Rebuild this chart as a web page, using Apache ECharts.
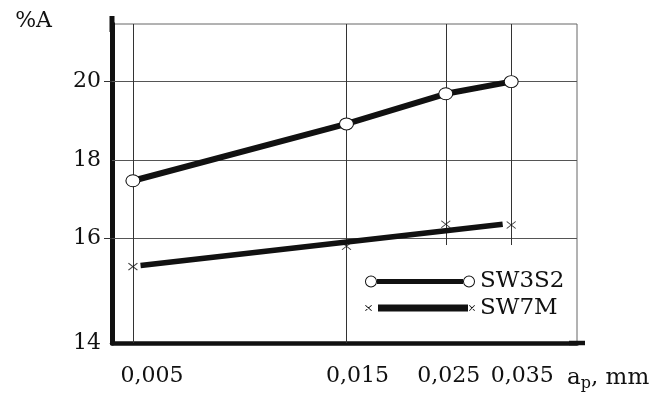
<!DOCTYPE html>
<html>
<head>
<meta charset="utf-8">
<script src="https://cdn.jsdelivr.net/npm/echarts@6/dist/echarts.min.js"></script>
<style>
html, body { margin: 0; padding: 0; background: #fff; }
#chart { width: 657px; height: 394px; }
</style>
</head>
<body>
<div id="chart"></div>
<script>
// values
var seriesNames = ['SW3S2', 'SW7M'];
var feedValues = [0.005, 0.015, 0.025, 0.035];
var feedLabels = ['0,005', '0,015', '0,025', '0,035'];
var sw3s2Values = [17.47, 18.92, 19.69, 20.0];
var sw7mValues = [15.28, 15.80, 16.36, 16.34];
// the SW7M line is drawn as a straight trend, not through the crosses
var sw7mTrendX = [0.0052, 0.0335];
var sw7mTrendY = [15.31, 16.36];
var yTickValues = [16, 18, 20];
var yBottomLabel = '14';

var X_MIN = 0.00449, X_MAX = 0.0491;
var Y_MIN = 13.33, Y_MAX = 21.47;
var FONT = 'DejaVu Serif';

// x labels in the picture sit to the right of their lines
var labelShift = [38, 22, 6, 22];
// the two right-hand vertical lines stop just under the 16 line (legend area is clear)
var vLineBottom = [Y_MIN, Y_MIN, 15.83, 15.83];

function pairs(xs, ys) {
	return xs.map(function (x, i) { return [x, ys[i]]; });
}

function nearestFeed(v) {
	var best = 0;
	for (var i = 1; i < feedValues.length; i++) {
		if (Math.abs(Math.log(v) - Math.log(feedValues[i])) < Math.abs(Math.log(v) - Math.log(feedValues[best]))) best = i;
	}
	return best;
}

var xRich = {};
labelShift.forEach(function (s, i) {
	xRich['l' + i] = {
		fontFamily: FONT, fontSize: 22, color: '#111',
		padding: [0, 0, 0, s]
	};
});

var ringIcon = 'path://M0,6A6,6,0,1,1,12,6A6,6,0,1,1,0,6Z M1,6A5,5,0,1,0,11,6A5,5,0,1,0,1,6Z M12,3.5H98V8.5H12Z M98,6A6,6,0,1,1,110,6A6,6,0,1,1,98,6Z M99,6A5,5,0,1,0,109,6A5,5,0,1,0,99,6Z';
var crossIcon = 'path://M0,3.5L0.7,3L7,8.5L6.3,9Z M0,8.5L6.3,3L7,3.5L0.7,9Z M13,2.5H103V9.5H13Z M104,3.5L104.6,3L110,8.5L109.4,9Z M104,8.5L109.4,3L110,3.5L104.6,9Z';

var gridLines = yTickValues.map(function (v) {
	return [{ coord: [X_MIN, v], lineStyle: { color: '#555', width: 1 } }, { coord: [X_MAX, v] }];
}).concat(feedValues.map(function (v, i) {
	return [{ coord: [v, vLineBottom[i]], lineStyle: { color: '#333', width: 1 } }, { coord: [v, Y_MAX] }];
}));

var chart = echarts.init(document.getElementById('chart'));
chart.setOption({
	animation: false,
	grid: {
		left: 112, right: 80, top: 24, bottom: 51,
		show: true, borderColor: '#666', borderWidth: 1
	},
	legend: {
		orient: 'vertical',
		left: 365, top: 270,
		padding: 0,
		itemWidth: 110, itemHeight: 12, itemGap: 3.5,
		symbolKeepAspect: true,
		textStyle: { fontFamily: FONT, fontSize: 23, color: '#111' },
		data: [
			{ name: seriesNames[0], icon: ringIcon, itemStyle: { color: '#111', borderWidth: 0 } },
			{ name: seriesNames[1], icon: crossIcon, itemStyle: { color: '#111', borderWidth: 0 } }
		]
	},
	xAxis: {
		type: 'log',
		min: X_MIN, max: X_MAX,
		name: '{a|a}{s|p}{a|, mm}',
		nameLocation: 'end',
		nameGap: -10,
		nameMoveOverlap: false,
		nameTextStyle: {
			verticalAlign: 'top', align: 'left', padding: [21, 0, 0, 0],
			rich: {
				a: { fontFamily: FONT, fontSize: 23, color: '#111' },
				s: { fontFamily: FONT, fontSize: 16, color: '#111', verticalAlign: 'bottom', padding: [12, 0, 0, 0] }
			}
		},
		axisLine: { lineStyle: { color: '#111', width: 4.5 }, symbol: ['none', 'rect'], symbolSize: [4.5, 16] },
		axisTick: { show: false },
		splitLine: { show: false },
		axisLabel: {
			customValues: feedValues,
			margin: 22,
			hideOverlap: false,
			showMinLabel: true,
			showMaxLabel: true,
			formatter: function (v) {
				var i = nearestFeed(v);
				return '{l' + i + '|' + feedLabels[i] + '}';
			},
			rich: xRich
		}
	},
	yAxis: {
		type: 'value',
		min: Y_MIN, max: Y_MAX,
		name: '%A',
		nameLocation: 'end',
		nameGap: 3,
		nameTextStyle: { fontFamily: FONT, fontSize: 22, color: '#111', align: 'right', verticalAlign: 'middle', padding: [0, 60, 0, 0] },
		axisLine: { lineStyle: { color: '#111', width: 5 }, symbol: ['none', 'rect'], symbolSize: [5, 16] },
		axisTick: { show: true, customValues: [16, 20], length: 8, lineStyle: { color: '#333', width: 1 } },
		splitLine: { show: false },
		axisLabel: {
			customValues: [Y_MIN].concat(yTickValues),
			margin: 11,
			fontFamily: FONT, fontSize: 22, color: '#111',
			formatter: function (v) {
				return Math.abs(v - Y_MIN) < 0.01 ? yBottomLabel : String(v);
			}
		}
	},
	series: [
		{
			name: seriesNames[0],
			type: 'line',
			data: pairs(feedValues, sw3s2Values),
			symbol: 'circle',
			symbolSize: [14, 12],
			z: 3,
			lineStyle: { color: '#111', width: 6 },
			itemStyle: { color: '#fff', borderColor: '#111', borderWidth: 1 },
			markLine: {
				silent: true,
				z: 1,
				symbol: 'none',
				label: { show: false },
				lineStyle: { type: 'solid' },
				data: gridLines
			}
		},
		{
			name: seriesNames[1],
			type: 'line',
			data: pairs(sw7mTrendX, sw7mTrendY),
			showSymbol: false,
			symbol: 'none',
			z: 3,
			lineStyle: { color: '#111', width: 5.5 },
			itemStyle: { color: '#111' }
		},
		{
			name: seriesNames[1],
			type: 'scatter',
			data: pairs(feedValues, sw7mValues),
			symbol: 'path://M0,0L10,10M10,0L0,10',
			symbolSize: [9, 7],
			z: 4,
			itemStyle: { color: '#111', borderColor: '#111', borderWidth: 1 }
		}
	]
});
</script>
</body>
</html>
